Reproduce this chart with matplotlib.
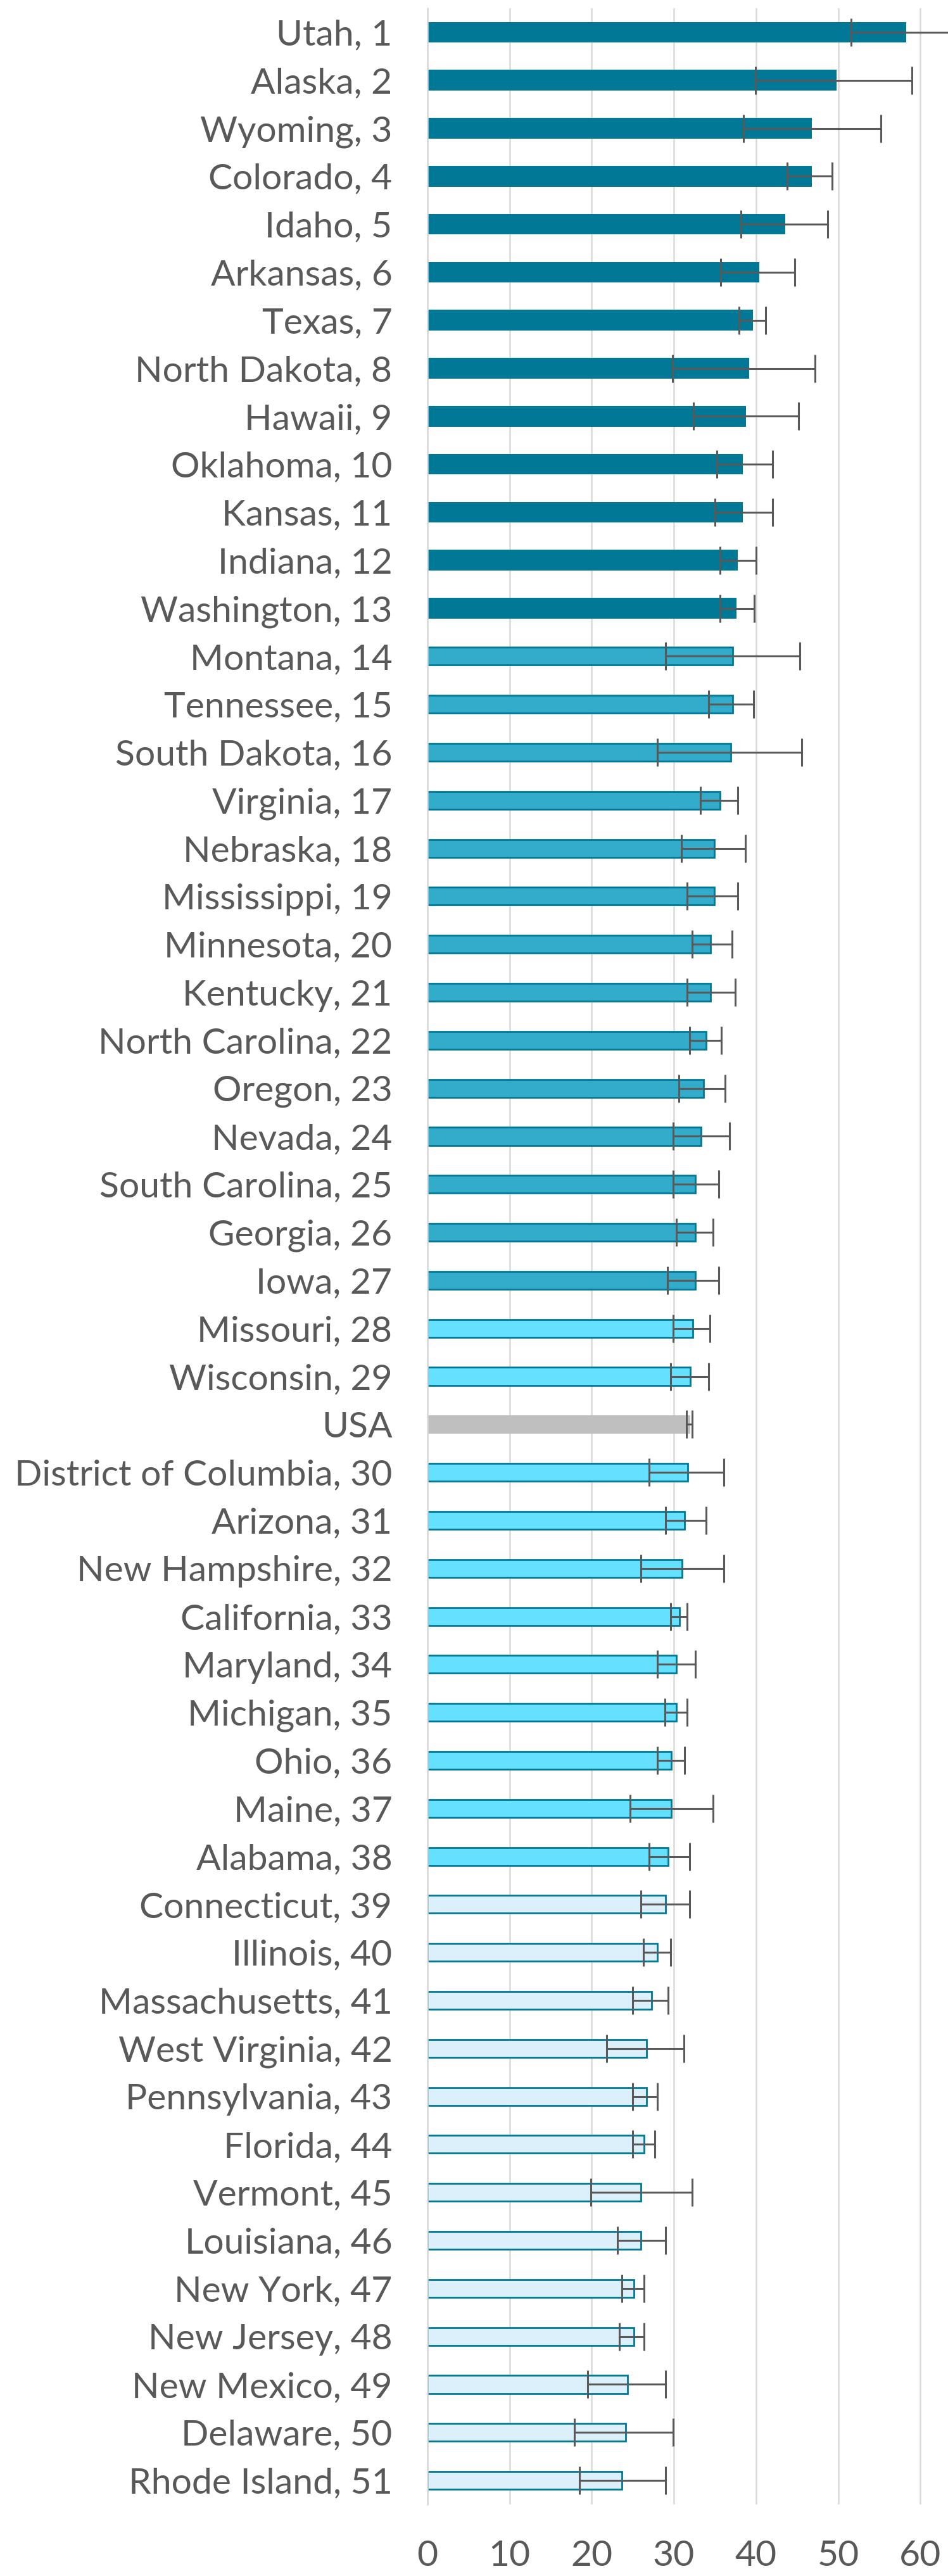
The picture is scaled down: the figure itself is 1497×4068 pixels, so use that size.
import matplotlib
matplotlib.use("Agg")
import matplotlib.pyplot as plt

# rows from top to bottom, as in the chart
labels = ["Utah, 1", "Alaska, 2", "Wyoming, 3", "Colorado, 4", "Idaho, 5",
          "Arkansas, 6", "Texas, 7", "North Dakota, 8", "Hawaii, 9",
          "Oklahoma, 10", "Kansas, 11", "Indiana, 12", "Washington, 13",
          "Montana, 14", "Tennessee, 15", "South Dakota, 16", "Virginia, 17",
          "Nebraska, 18", "Mississippi, 19", "Minnesota, 20", "Kentucky, 21",
          "North Carolina, 22", "Oregon, 23", "Nevada, 24", "South Carolina, 25",
          "Georgia, 26", "Iowa, 27", "Missouri, 28", "Wisconsin, 29", "USA",
          "District of Columbia, 30", "Arizona, 31", "New Hampshire, 32",
          "California, 33", "Maryland, 34", "Michigan, 35", "Ohio, 36",
          "Maine, 37", "Alabama, 38", "Connecticut, 39", "Illinois, 40",
          "Massachusetts, 41", "West Virginia, 42", "Pennsylvania, 43",
          "Florida, 44", "Vermont, 45", "Louisiana, 46", "New York, 47",
          "New Jersey, 48", "New Mexico, 49", "Delaware, 50", "Rhode Island, 51"]

values = [58.3, 49.8, 46.8, 46.8, 43.6, 40.4, 39.6, 39.2, 38.8, 38.4, 38.4, 37.8, 37.6,
          37.2, 37.2, 36.9, 35.6, 34.9, 34.9, 34.5, 34.5, 33.9, 33.6, 33.3, 32.6, 32.6, 32.6,
          32.3, 32.0, 32.0, 31.7, 31.3, 31.0, 30.7, 30.3, 30.3, 29.7, 29.7, 29.3,
          29.0, 28.0, 27.3, 26.7, 26.7, 26.4, 26.0, 26.0, 25.1, 25.1, 24.4, 24.1, 23.7]

lower = [51.6, 39.9, 38.5, 43.8, 38.2, 35.7, 37.9, 29.8, 32.4, 35.2, 35.0, 35.6, 35.6,
         29.0, 34.2, 28.0, 33.2, 30.9, 31.6, 32.2, 31.6, 31.9, 30.6, 29.9, 29.9, 30.3, 29.2,
         29.9, 29.6, 31.5, 27.0, 29.0, 26.0, 29.6, 28.0, 28.9, 28.0, 24.7, 27.0,
         26.0, 26.3, 25.0, 21.8, 25.0, 25.0, 19.9, 23.1, 23.7, 23.4, 19.5, 17.9, 18.5]

upper = [65.0, 59.0, 55.2, 49.3, 48.7, 44.7, 41.2, 47.2, 45.2, 42.0, 42.0, 40.0, 39.8,
         45.3, 39.7, 45.6, 37.8, 38.7, 37.8, 37.1, 37.5, 35.8, 36.2, 36.8, 35.5, 34.8, 35.5,
         34.4, 34.2, 32.2, 36.1, 33.9, 36.1, 31.6, 32.6, 31.6, 31.3, 34.8, 31.9,
         31.9, 29.6, 29.3, 31.2, 28.0, 27.7, 32.2, 29.0, 26.4, 26.4, 29.0, 29.9, 29.0]

# colour tier per row (0 = national figure)
tiers = [1] * 13 + [2] * 14 + [3] * 2 + [0] + [3] * 9 + [4] * 13

fills = {0: "#BFBFBF", 1: "#007896", 2: "#33ABCB", 3: "#66E0FF", 4: "#DCF0FC"}
edge = "#007896"
text_col = "#595959"

W, H, DPI = 1497, 4068, 100
fig = plt.figure(figsize=(W / DPI, H / DPI), dpi=DPI)
ax = fig.add_axes([675 / W, 1 - 3955 / H, (W - 675) / W, (3955 - 13) / H])

# fit font size so the longest label has the reference width
probe = fig.text(0, 0, "District of Columbia, 30", family="Lato", fontsize=40)
fig.canvas.draw()
wpx = probe.get_window_extent().width
probe.remove()
fs = 40 * 596 / wpx

ypos = list(range(len(labels)))
for i in ypos:
    t = tiers[i]
    if t in (0, 1):
        ax.barh(i, values[i], height=0.43 if t == 1 else 0.38, color=fills[t],
                edgecolor="none", zorder=2)
    else:
        ax.barh(i, values[i], height=0.37, color=fills[t], edgecolor=edge,
                linewidth=2.0, zorder=2)

xerr = [[v - lo for v, lo in zip(values, lower)], [hi - v for v, hi in zip(values, upper)]]
ax.errorbar(values, ypos, xerr=xerr, fmt="none", ecolor=text_col, elinewidth=2.2,
            capsize=16, capthick=2.2, zorder=3)

ax.set_xlim(0, (W - 675) / 12.97)
ax.set_ylim(len(labels) - 0.5, -0.5)
ax.set_yticks(ypos)
ax.set_yticklabels(labels, family="Lato", fontsize=fs, color=text_col)
ax.set_xticks([0, 10, 20, 30, 40, 50, 60])
ax.set_xticklabels(["0", "10", "20", "30", "40", "50", "60"], family="Lato",
                   fontsize=fs, color=text_col)
ax.tick_params(axis="y", length=0, pad=40)
ax.tick_params(axis="x", length=0, pad=40)

ax.grid(axis="x", color="#D9D9D9", linewidth=1.8, zorder=0)
ax.set_axisbelow(True)
for s in ["top", "right", "bottom"]:
    ax.spines[s].set_visible(False)
ax.spines["left"].set_color("#D9D9D9")
ax.spines["left"].set_linewidth(1.8)

fig.savefig("out.png", dpi=DPI)
